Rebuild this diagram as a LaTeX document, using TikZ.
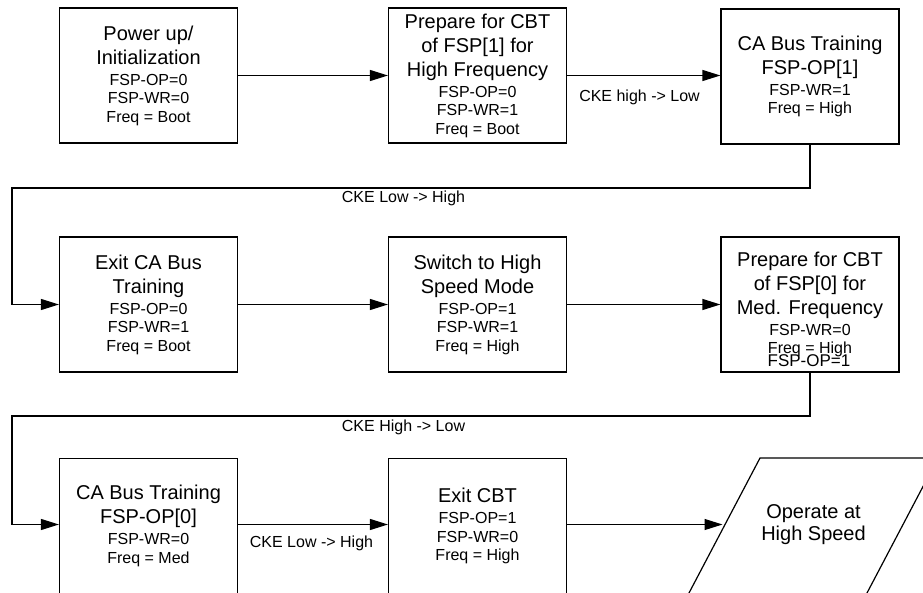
\documentclass[tikz,border=0pt]{standalone}
\usepackage{fontspec}
\setmainfont{Liberation Sans}
\usetikzlibrary{arrows.meta}
\newcommand\BigT[1]{{\fontsize{20}{24}\selectfont #1}}
\lineskiplimit=-50pt
\begin{document}
\begin{tikzpicture}[x=1pt,y=-1pt,
  stepbox/.style={draw, line width=1.2pt, minimum width=178pt, minimum height=135pt,
    inner sep=0pt, align=center, font=\fontsize{16}{18.5}\selectfont},
  cutbox/.style={stepbox, minimum height=150pt, anchor=north},
  conn/.style={line width=1.2pt, -{Triangle[length=18pt,width=11pt]}},
  lbl/.style={font=\fontsize{16}{18.5}\selectfont, inner sep=0pt}]
\useasboundingbox (0,0) rectangle (923,593);
\clip (0,0) rectangle (923,593);
% row 1
\node[stepbox] (b1) at (148.5,75.5) {\BigT{Power up/}\\[5.5pt]\BigT{Initialization}\\[2.5pt]FSP-OP=0\\FSP-WR=0\\Freq = Boot};
\node[stepbox] (b2) at (477.5,75.5) {\BigT{Prepare for CBT}\\[5.5pt]\BigT{of FSP[1] for}\\[5.5pt]\BigT{High Frequency}\\[2.5pt]FSP-OP=0\\FSP-WR=1\\Freq = Boot};
\node[stepbox] (b3) at (810,76.5) {\BigT{CA Bus Training}\\[5.5pt]\BigT{FSP-OP[1]}\\[2.5pt]FSP-WR=1\\Freq = High};
% row 2
\node[stepbox] (b4) at (148.5,304.5) {\BigT{Exit CA Bus}\\[5.5pt]\BigT{Training}\\[2.5pt]FSP-OP=0\\FSP-WR=1\\Freq = Boot};
\node[stepbox] (b5) at (477.5,304.5) {\BigT{Switch to High}\\[5.5pt]\BigT{Speed Mode}\\[2.5pt]FSP-OP=1\\FSP-WR=1\\Freq = High};
\node[stepbox] (b6) at (810,304.5) {\BigT{Prepare for CBT}\\[5.5pt]\BigT{of FSP[0] for}\\[5.5pt]\BigT{Med. Frequency}\\[2.5pt]FSP-WR=0\\Freq = High};
\node[font=\fontsize{17}{20}\selectfont, inner sep=0pt, anchor=base] (b6op) at (809,366) {FSP-OP=1};
% row 3 (cut off by the bottom edge)
\node[cutbox] (b7) at (148.5,458) {\BigT{CA Bus Training}\\[5.5pt]\BigT{FSP-OP[0]}\\[2.5pt]FSP-WR=0\\Freq = Med\\[-0.1pt]\mbox{}};
\node[cutbox] (b8) at (477.5,458) {\BigT{Exit CBT}\\[2.5pt]FSP-OP=1\\FSP-WR=0\\Freq = High\\[-0.1pt]\mbox{}};
\node[font=\fontsize{20}{22.5}\selectfont, align=center, inner sep=0pt] (op) at (813.5,524.5) {Operate at\\High Speed};
\draw[line width=1.2pt, shift={(op.center)}] (-53.5,-66.5) -- (124.5,-66.5) -- (45.6,83.5) -- (-132.4,83.5) -- cycle;
\coordinate (opin) at ([xshift=-91pt]op.center);
% connectors
\coordinate (t1) at (12,188);
\coordinate (t2) at (12,416);
\draw[conn] (b1) -- (b2);
\draw[conn] (b2) -- (b3.west |- b2.east);
\draw[conn] (b3.south) |- (t1) |- (b4.west);
\draw[conn] (b4) -- (b5);
\draw[conn] (b5) -- (b6);
\draw[conn] (b6.south) |- (t2) |- (b7.west |- opin);
\draw[conn] (b7.east |- opin) -- (b8.west |- opin);
\draw[conn] (b8.east |- opin) -- (opin);
% labels
\node[lbl] (l1) at (639.5,97) {CKE high -> Low};
\node[lbl] (l2) at (403.5,198) {CKE Low -> High};
\node[lbl] (l3) at (403.5,427) {CKE High -> Low};
\node[lbl] (l4) at (311.5,543.5) {CKE Low -> High};
\end{tikzpicture}
\end{document}
